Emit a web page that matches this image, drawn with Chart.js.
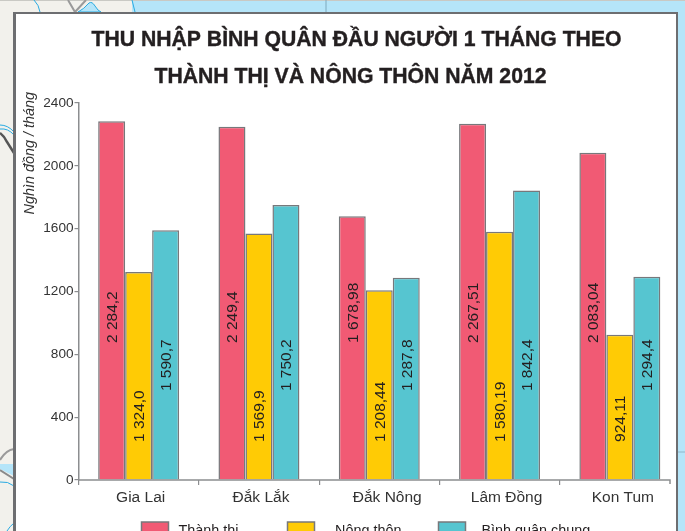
<!DOCTYPE html>
<html lang="vi">
<head>
<meta charset="utf-8">
<title>Thu nhập bình quân đầu người 2012</title>
<script src="https://cdn.jsdelivr.net/npm/chart.js@4"></script>
<style>
html,body{margin:0;padding:0;width:685px;height:531px;overflow:hidden;background:#f2f1ec}
#bg{position:absolute;left:0;top:0}
#panel{position:absolute;left:13px;top:12px;width:660px;height:530px;background:#fff;border-style:solid;border-color:#6d6e71;border-width:2.5px 2.5px 0 3px}
#wrap{position:absolute;left:0;top:0;width:685px;height:531px}
</style>
</head>
<body>
<svg id="bg" width="685" height="531" viewBox="0 0 685 531" fill="none">
  <rect x="132" y="0" width="553" height="531" fill="#b5e5f9"/>
  <path d="M0 0.5H685" stroke="#c9c9c4" stroke-width="1"/>
  <path d="M132 0 Q134 8 135 12" stroke="#29abe2" stroke-width="1"/>
  <path d="M326 0V12" stroke="#7fa9bd" stroke-width="1"/>
  <path d="M34 0 Q39 5 40 12" stroke="#29abe2" stroke-width="1"/>
  <path d="M78 12 Q84 9 89 3 Q92 1 95 6 Q98 11 101 12Z" fill="#b5e5f9" stroke="#29abe2" stroke-width="1"/>
  <path d="M68 0 L75 12 L86 0" stroke="#9a9a9a" stroke-width="2"/>
  <path d="M677 452H685" stroke="#8fb6c9" stroke-width="1"/>
  <path d="M0 125 Q8 125 14 132" stroke="#29abe2" stroke-width="1"/>
  <path d="M0 129 Q8 128 14 135" stroke="#29abe2" stroke-width="1"/>
  <path d="M0 133 Q5 137 7 142 L14 153" stroke="#555" stroke-width="2.5"/>
  <path d="M0 460 Q6 450 14 449" stroke="#9a9a9a" stroke-width="2"/>
  <path d="M0 464H14V476Q6 472 0 469Z" fill="#b5e5f9"/>
  <path d="M0 470 L14 479" stroke="#8a8a8a" stroke-width="2"/>
  <path d="M0 482 Q8 481 14 486" stroke="#29abe2" stroke-width="1"/>
  <path d="M7 531 Q10 526 14 523" stroke="#29abe2" stroke-width="1"/>
</svg>
<div id="panel"></div>
<div id="wrap"><canvas id="c" width="685" height="531"></canvas></div>
<script>
const categories = ["Gia Lai", "Đắk Lắk", "Đắk Nông", "Lâm Đồng", "Kon Tum"];
const seriesNames = ["Thành thị", "Nông thôn", "Bình quân chung"];
const urbanValues = [2284.2, 2249.4, 1678.98, 2267.51, 2083.04];
const ruralValues = [1324.0, 1569.9, 1208.44, 1580.19, 924.11];
const averageValues = [1590.7, 1750.2, 1287.8, 1842.4, 1294.4];
const urbanLabels = ["2 284,2", "2 249,4", "1 678,98", "2 267,51", "2 083,04"];
const ruralLabels = ["1 324,0", "1 569,9", "1 208,44", "1 580,19", "924,11"];
const averageLabels = ["1 590,7", "1 750,2", "1 287,8", "1 842,4", "1 294,4"];
const yTicks = [0, 400, 800, 1200, 1600, 2000, 2400];
const titleLines = ["THU NHẬP BÌNH QUÂN ĐẦU NGƯỜI 1 THÁNG THEO", "THÀNH THỊ VÀ NÔNG THÔN NĂM 2012"];
const yAxisTitle = "Nghìn đồng / tháng";

const FONT = '"Liberation Sans", Arial, sans-serif';
const INK = '#231f20', AXIS = '#8c8e90', EDGE = '#77787b';
const COLORS = ['#f15a74', '#ffcb05', '#56c5d0'];

const decor = {
  id: 'decor',
  afterLayout(chart) {
    const shifts = [2, 2, 8, 7, 3];
    chart.scales.x.getLabelItems().forEach((it, i) => { it.options.translation[0] += shifts[i]; });
  },
  afterDatasetsDraw(chart) {
    const c = chart.ctx, x = chart.scales.x, y = chart.scales.y;
    c.save();
    // title
    c.fillStyle = INK; c.strokeStyle = INK; c.lineWidth = 0.4;
    c.textBaseline = 'alphabetic'; c.textAlign = 'center';
    c.font = 'bold 21.2px ' + FONT;
    c.fillText(titleLines[0], 356.5, 46);
    c.strokeText(titleLines[0], 356.5, 46);
    c.fillText(titleLines[1], 350.5, 83);
    c.strokeText(titleLines[1], 350.5, 83);
    // y axis title
    c.save();
    c.translate(34, y.getPixelForValue(2400) - 11);
    c.rotate(-Math.PI / 2);
    c.textAlign = 'right';
    c.font = 'italic 14.4px ' + FONT;
    c.fillStyle = '#333';
    c.fillText(yAxisTitle, 0, 0);
    c.restore();
    // value labels written up inside the bars
    const groups = [urbanLabels, ruralLabels, averageLabels];
    const starts = [872, 242, 566];
    c.font = '15.5px ' + FONT; c.fillStyle = INK;
    c.textAlign = 'left'; c.textBaseline = 'middle';
    groups.forEach((labels, d) => {
      chart.getDatasetMeta(d).data.forEach((bar, i) => {
        c.save();
        c.translate(bar.x + 1, y.getPixelForValue(starts[d]));
        c.rotate(-Math.PI / 2);
        c.fillText(labels[i], 0, 0);
        c.restore();
      });
    });
    // x axis line stops short of the last category edge
    const end = 670, base = y.getPixelForValue(0);
    c.strokeStyle = AXIS; c.lineWidth = 1.5;
    c.beginPath();
    c.moveTo(x.left, base); c.lineTo(end, base); c.lineTo(end, base + 4);
    c.stroke();
    // legend
    const swatches = [141.5, 287.5, 438.5], texts = [178.5, 335, 481.5];
    c.textBaseline = 'alphabetic';
    c.font = '14.4px ' + FONT;
    seriesNames.forEach((name, i) => {
      c.fillStyle = COLORS[i]; c.strokeStyle = EDGE; c.lineWidth = 1.5;
      c.fillRect(swatches[i], 522, 27, 20);
      c.strokeRect(swatches[i], 522, 27, 20);
      c.fillStyle = INK;
      c.fillText(name, texts[i], 535);
    });
    c.restore();
  }
};

const makeSet = (label, data, i) => ({
  label, data,
  backgroundColor: COLORS[i],
  borderColor: EDGE,
  borderWidth: 1.5,
  barPercentage: 1,
  categoryPercentage: 0.673
});

new Chart(document.getElementById('c'), {
  type: 'bar',
  data: {
    labels: categories,
    datasets: [
      makeSet(seriesNames[0], urbanValues, 0),
      makeSet(seriesNames[1], ruralValues, 1),
      makeSet(seriesNames[2], averageValues, 2)
    ]
  },
  plugins: [decor],
  options: {
    responsive: false,
    animation: false,
    layout: { padding: { top: 103, right: 5, bottom: 0, left: 0 } },
    plugins: { legend: { display: false }, title: { display: false }, tooltip: { enabled: false } },
    scales: {
      x: {
        afterFit(s) { s.height = 51; },
        border: { display: false },
        grid: {
          drawOnChartArea: false, drawTicks: true, tickLength: 5, lineWidth: 1.2,
          tickColor: ctx => ctx.index < categories.length ? AXIS : 'rgba(0,0,0,0)'
        },
        ticks: { color: '#333', font: { family: FONT, size: 15.5 }, padding: 3, maxRotation: 0, autoSkip: false }
      },
      y: {
        min: 0, max: 2400,
        afterFit(s) { s.width = 78.5; },
        afterBuildTicks(s) { s.ticks = yTicks.map(v => ({ value: v })); },
        border: { display: true, color: AXIS, width: 1.5 },
        grid: { drawOnChartArea: false, drawTicks: true, tickLength: 4, tickColor: AXIS, lineWidth: 1.2 },
        ticks: { color: '#333', font: { family: FONT, size: 13.6 }, padding: 1, callback: v => String(v) }
      }
    }
  }
});
</script>
</body>
</html>
